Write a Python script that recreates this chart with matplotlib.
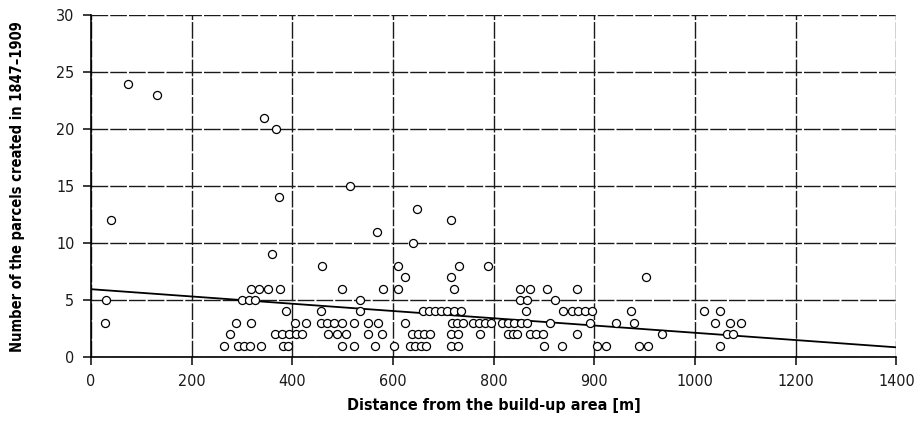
import numpy as np
import matplotlib.pyplot as plt

plt.rcParams['font.family'] = ['DejaVu Sans']
plt.rcParams['font.stretch'] = 'condensed'

# distance [m] and number of parcels, grouped by parcel count
dist_24 = [65]
dist_23 = [114]
dist_21 = [300]
dist_20 = [321]
dist_15 = [450]
dist_14 = [326]
dist_13 = [567]
dist_12 = [34, 626]
dist_11 = [498]
dist_10 = [560]
dist_9 = [315]
dist_8 = [401, 534, 640, 690]
dist_7 = [546, 626, 965]
dist_6 = [278, 292, 307, 329, 437, 508, 534, 631, 746, 763, 792, 845]
dist_5 = [26, 262, 274, 285, 468, 746, 758, 807]
dist_4 = [339, 400, 467, 577, 588, 598, 609, 619, 631, 643, 756, 821, 836,
          847, 859, 871, 938, 1066, 1093]
dist_3 = [24, 252, 278, 355, 374, 400, 410, 423, 436, 457, 482, 499, 546,
          628, 636, 646, 664, 675, 685, 696, 714, 725, 736, 747, 758, 798,
          867, 913, 944, 1085, 1111, 1130]
dist_2 = [242, 320, 332, 344, 356, 367, 412, 428, 443, 482, 506, 558, 569,
          579, 590, 626, 638, 676, 725, 734, 741, 763, 774, 786, 845, 992,
          1106, 1116]
dist_1 = [231, 256, 266, 276, 296, 334, 343, 436, 457, 494, 527, 555, 564,
          574, 583, 626, 638, 788, 819, 880, 896, 952, 969, 1093]

groups = {24: dist_24, 23: dist_23, 21: dist_21, 20: dist_20, 15: dist_15,
          14: dist_14, 13: dist_13, 12: dist_12, 11: dist_11, 10: dist_10,
          9: dist_9, 8: dist_8, 7: dist_7, 6: dist_6, 5: dist_5, 4: dist_4,
          3: dist_3, 2: dist_2, 1: dist_1}

# linear trend
trend_x = [0, 1400]
trend_y = [5.95, 0.85]

xtick_labels = ['0', '200', '400', '600', '800', '900', '1000', '1200', '1400']

x = np.concatenate([np.array(v, float) for v in groups.values()])
y = np.concatenate([np.full(len(v), k, float) for k, v in groups.items()])

fig = plt.figure(figsize=(9.23, 4.21), dpi=100)
ax = fig.add_axes([0.0986, 0.152, 0.8725, 0.812])

ax.plot(trend_x, trend_y, color='black', lw=1.3, zorder=2)
ax.plot(x, y, 'o', ms=5.8, mfc='white', mec='black', mew=0.9, zorder=3)

ax.set_xlim(0, 1400)
ax.set_ylim(0, 30)
ax.set_xticks(np.linspace(0, 1400, 9))
ax.set_xticklabels(xtick_labels)
ax.set_yticks(np.arange(0, 31, 5))

ax.grid(True, color='#1a1a1a', lw=1.0, ls=(0, (12, 1.5)))
ax.set_axisbelow(True)
for side in ['top', 'right']:
    ax.spines[side].set_visible(False)
for side in ['left', 'bottom']:
    ax.spines[side].set_linewidth(1.2)
ax.tick_params(axis='both', direction='out', length=6, width=1.2,
               labelsize=11.5, colors='#1a1a1a', pad=6)

ax.set_xlabel('Distance from the build-up area [m]', fontsize=11.5,
              fontweight='bold', labelpad=7)
ax.set_ylabel('Number of the parcels created in 1847\u20131909', fontsize=10.5,
              fontweight='bold', labelpad=22)

fig.savefig('out.png', dpi=100)
